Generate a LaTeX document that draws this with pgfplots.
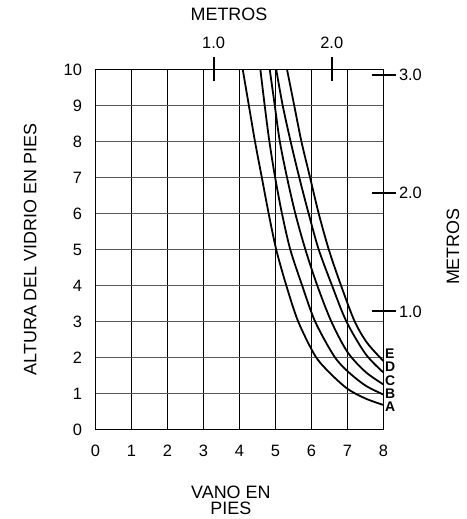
\documentclass[border=0pt]{standalone}
\usepackage{pgfplots}
\pgfplotsset{compat=1.18}
\usepackage{fontspec}
\setmainfont{Liberation Sans}
\begin{document}
\begin{tikzpicture}[x=1bp,y=1bp]
\path[use as bounding box] (-95.5,-89.5) rectangle (371.5,429.5);
\begin{axis}[
  at={(0,0)}, anchor=south west,
  width=288bp, height=360bp, scale only axis,
  xmin=0,xmax=8,ymin=0,ymax=10,
  xtick={0,...,8}, ytick={0,...,10},
  major tick length=0pt,
  grid=major,
  x grid style={black, line width=0.8bp},
  y grid style={black!65, line width=1bp},
  axis line style={black, line width=1bp},
  /pgf/number format/assume math mode=true,
  ticklabel style={font=\fontsize{16.5}{19}\selectfont},
  xticklabel style={yshift=-12bp},
  yticklabel style={xshift=-10bp},
  label style={font=\fontsize{18}{16.5}\selectfont},
  xlabel={VANO EN\\PIES},
  xlabel style={align=center, at={(axis description cs:0.47,-0.197)}, anchor=center},
  ylabel={ALTURA DEL VIDRIO EN PIES},
  ylabel style={at={(axis description cs:-0.227,0.5)}, anchor=center},
  clip=false,
]
\addplot[black, line width=1.8bp, smooth] coordinates {
(4.09,10) (4.26,9) (4.43,8) (4.62,7) (4.81,6) (5.02,5) (5.3,4) (5.63,3) (6.1,2.05) (6.5,1.58) (7,1.13) (7.5,0.86) (8,0.68)};
\addplot[black, line width=1.8bp, smooth] coordinates {
(4.58,10) (4.70,9) (4.83,8) (4.99,7) (5.18,6) (5.41,5) (5.74,4) (6.1,3) (6.62,2.05) (7,1.62) (7.5,1.22) (8,0.97)};
\addplot[black, line width=1.8bp, smooth] coordinates {
(4.84,10) (4.98,9) (5.12,8) (5.32,7) (5.55,6) (5.83,5) (6.16,4) (6.55,3) (7.0,2.15) (7.5,1.6) (8,1.25)};
\addplot[black, line width=1.8bp, smooth] coordinates {
(5.02,10) (5.2,9) (5.42,8) (5.66,7) (5.92,6) (6.2,5) (6.57,4) (6.97,3) (7.5,2.1) (8,1.58)};
\addplot[black, line width=1.8bp, smooth] coordinates {
(5.32,10) (5.52,9) (5.72,8) (5.96,7) (6.2,6) (6.48,5) (6.82,4) (7.2,3) (7.55,2.4) (8,1.9)};
\begin{scope}[every node/.style={anchor=west, inner sep=0pt, xshift=1.5bp, text height=9.5bp, text depth=0bp, font=\fontsize{14}{14}\selectfont\bfseries}]
\node at (axis cs:8,2.10) {E};
\node at (axis cs:8,1.73) {D};
\node at (axis cs:8,1.36) {C};
\node at (axis cs:8,0.99) {B};
\node at (axis cs:8,0.62) {A};
\end{scope}
\end{axis}
\begin{axis}[
  at={(0,0)}, anchor=south west,
  width=288bp, height=360bp, scale only axis,
  xmin=0, xmax=2.4384, ymin=0, ymax=3.048,
  axis x line*=top, axis y line*=right,
  xtick={1,2}, xticklabels={1.0,2.0},
  ytick={1,2,3}, yticklabels={1.0,2.0,3.0},
  tick align=center, major tick length=24bp,
  major tick style={black, line width=1.8bp},
  axis line style={black, line width=1bp},
  ticklabel style={font=\fontsize{16.5}{19}\selectfont},
  xticklabel style={yshift=5bp},
  yticklabel style={xshift=0bp},
  label style={font=\fontsize{18}{21}\selectfont},
  xlabel={METROS},
  xlabel style={at={(axis description cs:0.4635,1.154)}, anchor=center},
  ylabel={METROS},
  ylabel style={at={(axis description cs:1.241,0.508)}, anchor=center},
]
\end{axis}
\end{tikzpicture}
\end{document}
